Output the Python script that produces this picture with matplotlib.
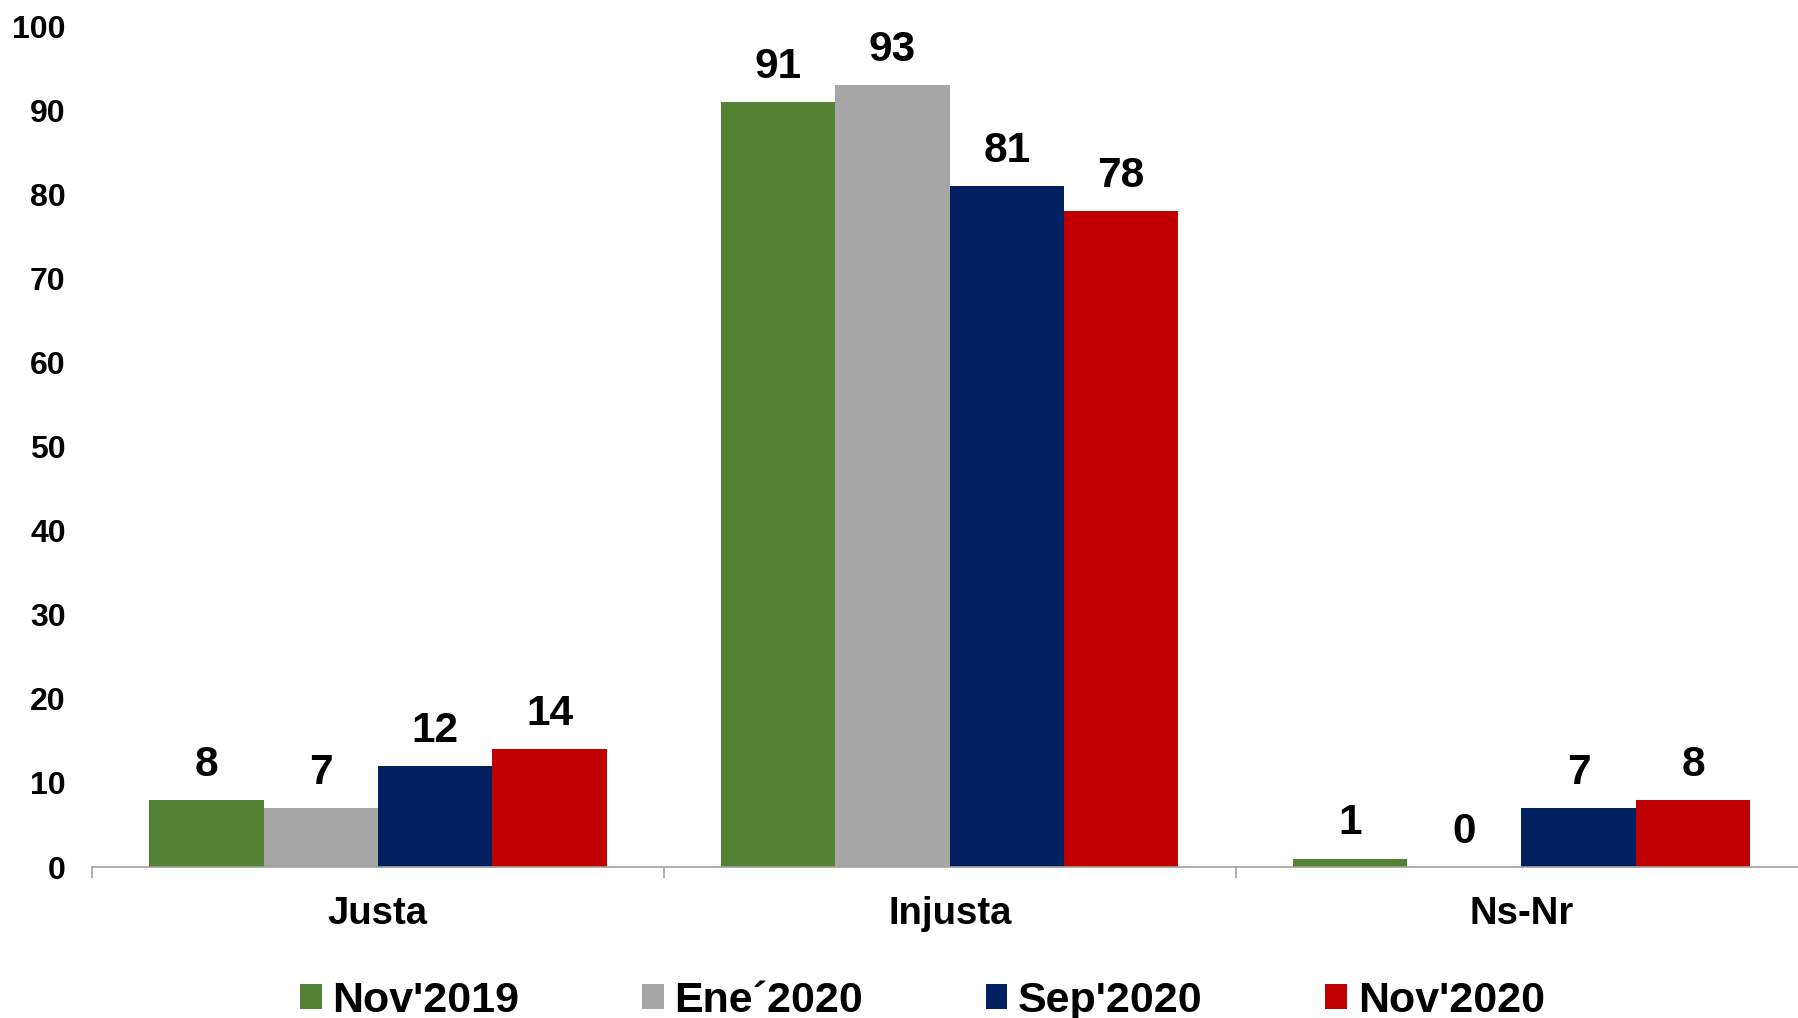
import numpy as np
import matplotlib
matplotlib.use("Agg")
import matplotlib.pyplot as plt

plt.rcParams['font.family'] = ['Liberation Sans', 'DejaVu Sans']
plt.rcParams['font.weight'] = 'bold'

# data
categories = ['Justa', 'Injusta', 'Ns-Nr']
series = ["Nov'2019", "Ene\u00b42020", "Sep'2020", "Nov'2020"]
nov2019 = [8, 91, 1]
ene2020 = [7, 93, 0]
sep2020 = [12, 81, 7]
nov2020 = [14, 78, 8]
values = [nov2019, ene2020, sep2020, nov2020]
colors = ['#548235', '#A6A6A6', '#002060', '#C00000']

fig = plt.figure(figsize=(17.98, 10.18), dpi=100)
ax = fig.add_axes([0.0512, 0.1483, 0.954, 0.8257])

x = np.arange(len(categories))
w = 0.2
for i, (vals, name, c) in enumerate(zip(values, series, colors)):
    bars = ax.bar(x + (i - 1.5) * w, vals, w, color=c, label=name)
    ax.bar_label(bars, labels=[str(v) for v in vals], padding=11,
                 fontsize=30.5, fontweight='bold')

ax.set_xlim(-0.5, 2.5)
ax.set_ylim(0, 100)
ax.set_yticks(range(0, 101, 10))
ax.set_xticks(x)
ax.set_xticklabels(categories)
ax.set_xticks([-0.5, 0.5, 1.5, 2.5], minor=True)

for s in ['top', 'right', 'left']:
    ax.spines[s].set_visible(False)
ax.spines['bottom'].set_color('#A0A0A0')
ax.spines['bottom'].set_linewidth(1.2)

ax.tick_params(axis='y', length=0, pad=19, labelsize=23)
ax.tick_params(axis='x', which='major', length=0, pad=21, labelsize=27.5)
ax.tick_params(axis='x', which='minor', length=8, width=1.2, color='#A0A0A0')

fig.legend(loc='center', bbox_to_anchor=(0.513, 0.017), ncol=4, frameon=False,
           fontsize=31, handlelength=0.5, handleheight=0.5,
           handletextpad=0.25, columnspacing=2.85)

fig.savefig('out.png', dpi=100)
